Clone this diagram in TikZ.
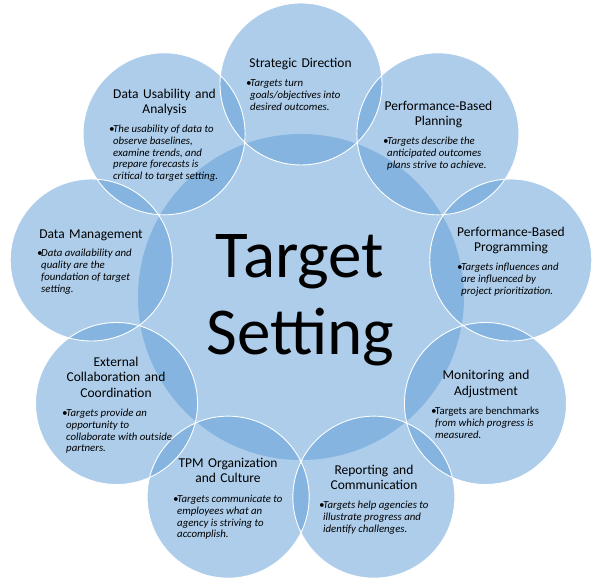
\documentclass[tikz,border=0pt]{standalone}
\usepackage{fontspec}
\setmainfont{Carlito}
\definecolor{ringblue}{RGB}{91,155,213}
\tikzset{
  hub/.style={circle,minimum size=326pt,inner sep=0pt,fill=ringblue,fill opacity=0.5},
  petal/.style={circle,minimum size=162pt,inner sep=0pt,fill=ringblue,fill opacity=0.5},
  rimline/.style={draw=white,line width=0.9pt},
  head/.style={anchor=base,inner sep=0pt,text width=130pt,align=center,font=\fontsize{13.5}{15.5}\selectfont},
  note/.style={anchor=base west,inner sep=0pt,font=\fontsize{10.8}{11.8}\selectfont\itshape},
  bigword/.style={anchor=base,inner sep=0pt,font=\fontsize{67}{77}\selectfont}
}
\newcommand\bulnote[1]{\makebox[4pt][l]{\textbullet}\begin{tabular}[t]{@{}l@{}}#1\end{tabular}}
\begin{document}
\begin{tikzpicture}[x=1pt,y=1pt]
  \useasboundingbox (0,0) rectangle (600,583);
  \node[hub] (hub) at (301,286) {};
  \foreach \a/\n in {90/strat,50/plan,10/prog,-30/mon,-70/rep,-110/tpm,-150/ext,170/dman,130/dusa}
    \path (hub.center) ++(\a:213) node[petal] (\n) {};
  \foreach \n in {strat,plan,prog,mon,rep,tpm,ext,dman,dusa}
    \draw[rimline] (\n.center) circle[radius=81];
  \node[bigword] (tgt) at (300,305) {Target};
  \node[bigword] (set) at (300.5,228) {Setting};
  \node[head] (stratH) at (300.5,515.5) {Strategic Direction};
  \node[note] (stratN) at (246,496.5) {\bulnote{Targets turn\\goals/objectives into\\desired outcomes.}};
  \node[head] (planH) at (438.5,472.5) {Performance-Based\\Planning};
  \node[note] (planN) at (383,438.5) {\bulnote{Targets describe the\\anticipated outcomes\\plans strive to achieve.}};
  \node[head] (progH) at (511,346.5) {Performance-Based\\Programming};
  \node[note] (progN) at (457,312.5) {\bulnote{Targets influences and\\are influenced by\\project prioritization.}};
  \node[head] (monH) at (486,203) {Monitoring and\\Adjustment};
  \node[note] (monN) at (431,168) {\bulnote{\upshape Targets are benchmarks\\from which progress is\\measured.}};
  \node[head] (repH) at (374,108.5) {Reporting and\\Communication};
  \node[note] (repN) at (319,74.5) {\bulnote{Targets help agencies to\\illustrate progress and\\identify challenges.}};
  \node[head] (tpmH) at (228,115.5) {TPM Organization\\and Culture};
  \node[note] (tpmN) at (173,80.5) {\bulnote{Targets communicate to\\employees what an\\agency is striving to\\accomplish.}};
  \node[head] (extH) at (116,216.5) {External\\Collaboration and\\Coordination};
  \node[note] (extN) at (62,166.5) {\bulnote{Targets provide an\\opportunity to\\collaborate with outside\\partners.}};
  \node[head] (dmanH) at (91,344) {Data Management};
  \node[note] (dmanN) at (37,326) {\bulnote{Data availability and\\quality are the\\foundation of target\\setting.}};
  \node[head] (dusaH) at (164.5,484.5) {Data Usability and\\Analysis};
  \node[note] (dusaN) at (109,450.5) {\bulnote{The usability of data to\\observe baselines,\\examine trends, and\\prepare forecasts is\\critical to target setting.}};
\end{tikzpicture}
\end{document}
